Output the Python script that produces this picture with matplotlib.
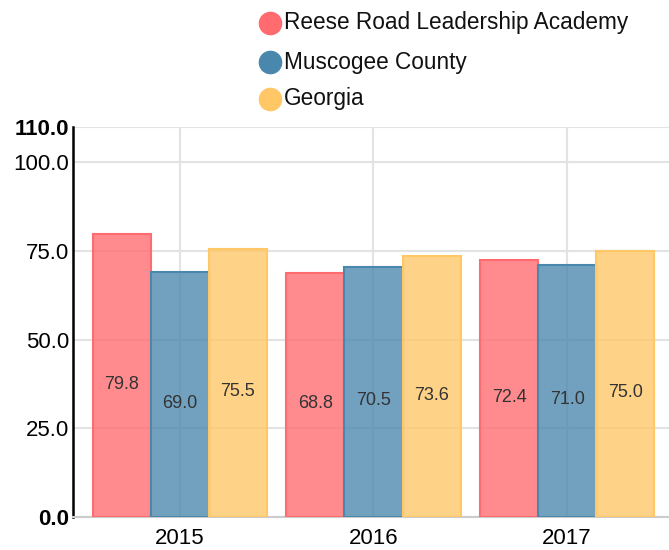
import matplotlib
matplotlib.use("Agg")
import matplotlib.pyplot as plt
import numpy as np

plt.rcParams['font.family'] = ['Liberation Sans', 'DejaVu Sans']

years = ["2015", "2016", "2017"]
series_names = ["Reese Road Leadership Academy", "Muscogee County", "Georgia"]
reese = [79.8, 68.8, 72.4]
muscogee = [69.0, 70.5, 71.0]
georgia = [75.5, 73.6, 75.0]
yticks = [0, 25, 50, 75, 100, 110]
ytick_labels = ["0.0", "25.0", "50.0", "75.0", "100.0", "110.0"]

colors = ["#FF6B6E", "#4A87AD", "#FFC766"]
W, H = 669, 550
fig = plt.figure(figsize=(W/100, H/100), dpi=100)
ax = fig.add_axes([73/W, (H-517)/H, (W-73)/W, (517-127)/H])

x = np.arange(len(years))
bw = 0.3
for i, (vals, c) in enumerate(zip([reese, muscogee, georgia], colors)):
    pos = x + (i-1)*bw
    ax.bar(pos, vals, width=bw, color=c, alpha=0.78, edgecolor='none', zorder=2)
    ax.bar(pos, vals, width=bw, facecolor='none', edgecolor=c, linewidth=1.5, zorder=3)
    for p, v in zip(pos, vals):
        ax.text(p, v/2, f"{v:.1f}", ha='center', va='top', fontsize=13, color='#333333', zorder=4)

ax.set_xlim(-0.5515, 2.526)
ax.set_ylim(0, 110)
ax.set_xticks(x)
ax.set_xticklabels(years, fontsize=16)
ax.set_yticks(yticks)
ax.set_yticklabels(ytick_labels, fontsize=16)
for lbl in ax.get_yticklabels():
    if lbl.get_text() in ("0.0", "110.0"):
        lbl.set_fontweight('bold')
ax.tick_params(axis='y', length=0, pad=3)
ax.tick_params(axis='x', length=0, pad=8)
ax.grid(True, color='#e3e3e3', linewidth=1.5, zorder=0)
ax.set_axisbelow(True)
for s in ['top', 'right']:
    ax.spines[s].set_visible(False)
ax.spines['left'].set_color('black')
ax.spines['left'].set_linewidth(1.8)
ax.spines['bottom'].set_color('#cccccc')
ax.spines['bottom'].set_linewidth(1.5)

# legend drawn manually in figure pixel space
leg_y = [23, 62, 99]
for name, c, yy in zip(series_names, colors, leg_y):
    fig.lines.append(plt.Line2D([270/W], [1-yy/H], marker='o', markersize=16, markerfacecolor=c,
                                markeredgecolor=c, linestyle='none', transform=fig.transFigure))
    fig.text(284/W, 1-yy/H, name, fontsize=16.3, va='center', ha='left', color='#111111')

fig.savefig("out.png", dpi=100)
